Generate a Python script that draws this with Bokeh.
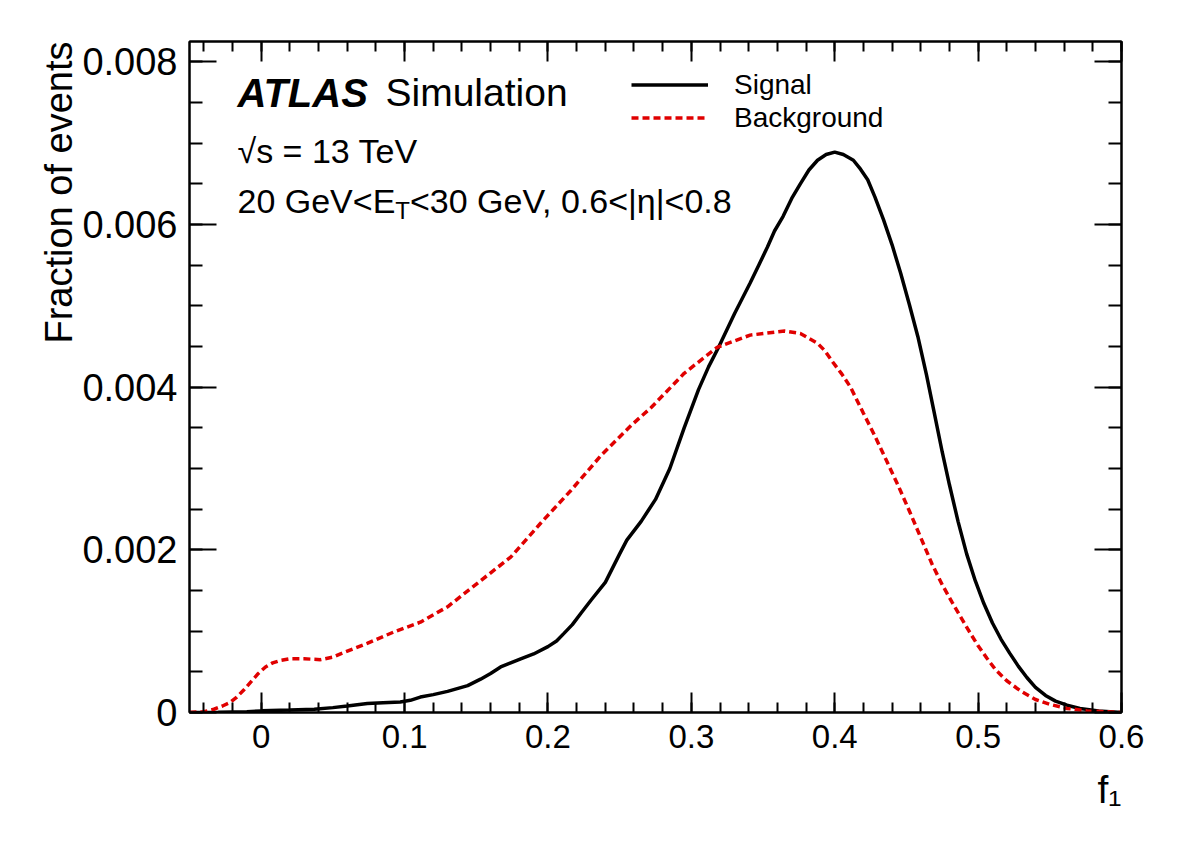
import numpy as np
from bokeh.plotting import figure
from bokeh.models import Range1d, LinearAxis, FixedTicker, Label, Legend, LegendItem, Title
from bokeh.embed import file_html
from bokeh.resources import INLINE

# ---- distributions of f1 (fraction of events) ----
f1_signal = [-0.05, -0.03, -0.01, 0.0, 0.02, 0.037, 0.05, 0.06, 0.074, 0.085, 0.097,
             0.104, 0.111, 0.12, 0.13, 0.144, 0.153, 0.16, 0.167, 0.174, 0.181, 0.19,
             0.2, 0.206, 0.211, 0.217, 0.223, 0.23, 0.24, 0.25, 0.255, 0.265, 0.275,
             0.285, 0.295, 0.305, 0.312, 0.319, 0.33, 0.341, 0.347, 0.353, 0.358,
             0.364, 0.37, 0.376, 0.382, 0.388, 0.394, 0.4, 0.406, 0.413, 0.418, 0.423,
             0.428, 0.434, 0.44, 0.446, 0.452, 0.458, 0.464, 0.469, 0.475, 0.48, 0.486,
             0.492, 0.498, 0.504, 0.51, 0.516, 0.522, 0.528, 0.534, 0.54, 0.547, 0.554,
             0.562, 0.571, 0.584, 0.6]
frac_signal = [0.0, 0.000003, 0.00001, 0.00002, 0.00003, 0.00004, 0.00006, 0.00008,
               0.00011, 0.00012, 0.00013, 0.00015, 0.00019, 0.00022, 0.00026, 0.00033,
               0.00041, 0.00048, 0.00056, 0.00061, 0.00066, 0.00072, 0.00081, 0.00088,
               0.00097, 0.00108, 0.00122, 0.00138, 0.0016, 0.00195, 0.00212, 0.00235,
               0.00262, 0.0030, 0.0035, 0.00397, 0.00425, 0.00449, 0.0049, 0.00528,
               0.0055, 0.00572, 0.00592, 0.0061, 0.00632, 0.0065, 0.00667, 0.00679,
               0.00686, 0.00689, 0.00686, 0.00679, 0.00668, 0.00655, 0.00634, 0.00606,
               0.00575, 0.0054, 0.00502, 0.00462, 0.00415, 0.00372, 0.0032, 0.0028,
               0.00235, 0.00195, 0.00162, 0.00134, 0.0011, 0.0009, 0.00073, 0.00057,
               0.00043, 0.00031, 0.00021, 0.00014, 0.00009, 0.00005, 0.00002, 0.0]

f1_background = [-0.05, -0.04, -0.033, -0.027, -0.022, -0.017, -0.012, -0.007, -0.002,
                 0.003, 0.008, 0.0135, 0.02, 0.03, 0.0414, 0.05, 0.0553, 0.0739,
                 0.0925, 0.111, 0.13, 0.153, 0.174, 0.195, 0.216, 0.237, 0.258, 0.272,
                 0.295, 0.318, 0.341, 0.365, 0.376, 0.388, 0.393, 0.399, 0.405, 0.411,
                 0.42, 0.428, 0.436, 0.444, 0.452, 0.46, 0.468, 0.475, 0.4817, 0.488,
                 0.494, 0.5, 0.506, 0.512, 0.52, 0.53, 0.54, 0.55, 0.562, 0.576, 0.6]
frac_background = [0.0, 0.00001, 0.00004, 0.00008, 0.00012, 0.00019, 0.00028, 0.00038,
                   0.00048, 0.00056, 0.00061, 0.00064, 0.00066, 0.00066, 0.00065,
                   0.00068, 0.00072, 0.00085, 0.00099, 0.00111, 0.0013, 0.00162,
                   0.00191, 0.00233, 0.00273, 0.00316, 0.00353, 0.00375, 0.00417,
                   0.00449, 0.00464, 0.00469, 0.00466, 0.00454, 0.00445, 0.0043,
                   0.00416, 0.004, 0.00368, 0.0034, 0.0031, 0.0028, 0.00248, 0.00215,
                   0.00182, 0.00157, 0.00136, 0.00117, 0.00099, 0.00082, 0.00067,
                   0.00053, 0.00039, 0.00026, 0.00016, 0.0001, 0.00005, 0.00002, 0.0]

x_major = [0, 0.1, 0.2, 0.3, 0.4, 0.5, 0.6]
x_labels = ["0", "0.1", "0.2", "0.3", "0.4", "0.5", "0.6"]
y_major = [0, 0.002, 0.004, 0.006, 0.008]
y_labels = ["0", "0.002", "0.004", "0.006", "0.008"]

FONT = "Liberation Sans"

x_minor = [round(v, 2) for v in np.arange(-0.04, 0.6001, 0.02)]
y_minor = [round(v, 4) for v in np.arange(0.0, 0.0083, 0.0005)]

p = figure(width=1182, height=848,
           x_range=Range1d(-0.05, 0.6), y_range=Range1d(0, 0.00825),
           output_backend="svg", toolbar_location=None,
           min_border_left=189, min_border_right=61,
           min_border_top=41, min_border_bottom=136)
p.grid.visible = False
p.outline_line_color = "black"
p.outline_line_width = 2
p.background_fill_color = "white"
p.border_fill_color = "white"


def style_axis(ax, ticker, major_len, minor_len, labels, size, standoff):
    ax.ticker = ticker
    ax.axis_line_color = "black"
    ax.axis_line_width = 2
    ax.major_tick_line_width = 2
    ax.minor_tick_line_width = 2
    ax.major_tick_in = major_len
    ax.major_tick_out = 0
    ax.minor_tick_in = minor_len
    ax.minor_tick_out = 0
    ax.major_label_text_font = FONT
    ax.major_label_text_color = "black"
    ax.major_label_text_font_size = size
    ax.major_label_standoff = standoff
    ax.major_label_overrides = dict(zip(ticker.ticks, labels))


x_ticker = FixedTicker(ticks=x_major, minor_ticks=x_minor)
y_ticker = FixedTicker(ticks=y_major, minor_ticks=y_minor)

style_axis(p.xaxis[0], x_ticker, 20, 10, x_labels, "33px", 12)
style_axis(p.yaxis[0], y_ticker, 27, 13, y_labels, "38px", 12)

# mirrored frame ticks on the top and right sides, without labels
top_axis = LinearAxis()
style_axis(top_axis, FixedTicker(ticks=x_major, minor_ticks=x_minor), 20, 10,
           [""] * len(x_major), "10px", 0)
p.add_layout(top_axis, "above")
right_axis = LinearAxis()
style_axis(right_axis, FixedTicker(ticks=y_major, minor_ticks=y_minor), 27, 13,
           [""] * len(y_major), "10px", 0)
p.add_layout(right_axis, "right")

r_sig = p.line(f1_signal, frac_signal, line_color="black", line_width=3.5)
r_bkg = p.line(f1_background, frac_background, line_color="#e00000",
               line_width=3.5, line_dash="7 4")

legend = Legend(items=[LegendItem(label="Signal", renderers=[r_sig]),
                       LegendItem(label="Background", renderers=[r_bkg])],
                location=(442, 578), orientation="vertical",
                glyph_width=77, glyph_height=33, label_height=33,
                label_standoff=26, spacing=0, padding=0, margin=0,
                border_line_color=None, background_fill_alpha=0,
                label_text_font=FONT, label_text_font_size="28px",
                label_text_color="black")
p.add_layout(legend)

# axis titles, aligned to the far end of each axis
p.add_layout(Title(text="f₁", align="right", text_font=FONT, text_font_size="39px",
                   text_font_style="normal", text_color="black", standoff=30),
             "below")
p.add_layout(Title(text="Fraction of events", align="right", text_font=FONT,
                   text_font_size="38px", text_font_style="normal",
                   text_color="black", standoff=0),
             "left")


def label(text, x, y, size, style="normal", **kw):
    p.add_layout(Label(x=x, y=y, x_units="screen", y_units="screen", text=text,
                       text_font=FONT, text_font_size=f"{size}px",
                       text_font_style=style, text_color="black",
                       text_baseline="alphabetic", **kw))


# Arial / Liberation Sans advance widths (per 1000 em)
ADV = {" ": 278, ",": 278, ".": 278, "<": 584, "=": 584, "E": 667, "G": 778,
       "T": 611, "V": 667, "e": 556, "|": 260, "η": 556}


def text_width(s, size):
    return sum(ADV.get(c, 556) for c in s) * size / 1000.0


label("ATLAS", 48, 620, 40, "bold italic")
label("Simulation", 196, 620, 39)
label("√s = 13 TeV", 48, 562, 34)

part_a = "20 GeV<E"
part_b = "<30 GeV, 0.6<|η|<0.8"
x0 = 48
label(part_a, x0, 512, 34)
x_sub = x0 + text_width(part_a, 34)
label("T", x_sub, 502, 24)
label(part_b, x_sub + text_width("T", 24), 512, 34)

open("out.html", "w").write(file_html(p, INLINE))
